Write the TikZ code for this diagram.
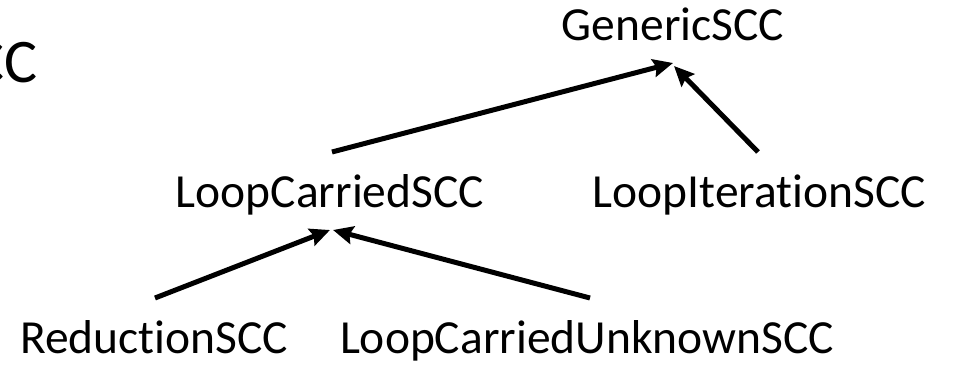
\documentclass[tikz,border=0pt]{standalone}
\usepackage{fontspec}
\setmainfont{Carlito}[Ligatures={NoCommon}]
\usetikzlibrary{arrows.meta}
\begin{document}
\begin{tikzpicture}[x=1pt,y=-1pt,
  lbl/.style={anchor=base,inner sep=0pt,font=\fontsize{47.5}{57}\selectfont},
  arr/.style={line width=5pt,-{Stealth[length=20pt,width=18pt,inset=3pt]}}]
\useasboundingbox (0,0) rectangle (957,366);
\node[anchor=base east,inner sep=0pt,font=\fontsize{62}{70}\selectfont] (title) at (38,83) {CC};
\node[lbl] (gen) at (673,41) {GenericSCC};
\node[lbl] (lc) at (330,207) {LoopCarriedSCC};
\node[lbl] (li) at (759.5,207) {LoopIterationSCC};
\node[lbl] (red) at (154,353) {ReductionSCC};
\node[lbl] (lcu) at (587,353) {LoopCarriedUnknownSCC};
\draw[arr] ([shift={(2,-55)}]lc.base) -- ([shift={(0,22)}]gen.base);
\draw[arr] ([shift={(-1.5,-55)}]li.base) -- ([shift={(1,25)}]gen.base);
\draw[arr] ([shift={(1,-55)}]red.base) -- ([shift={(0,23)}]lc.base);
\draw[arr] ([shift={(3,-55)}]lcu.base) -- ([shift={(3,23)}]lc.base);
\end{tikzpicture}
\end{document}
